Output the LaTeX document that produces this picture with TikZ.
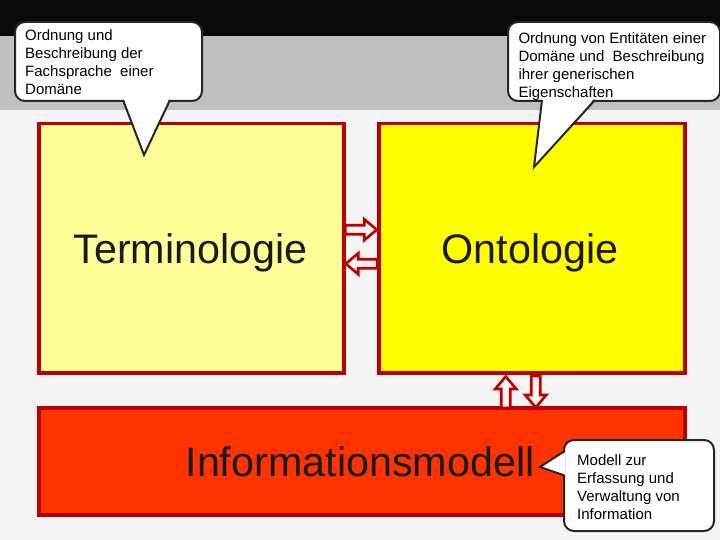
\documentclass[tikz,border=0pt]{standalone}
\usepackage{fontspec}
\setmainfont{Liberation Sans}
\usetikzlibrary{calc}
\definecolor{bandblack}{HTML}{0A0A0A}
\definecolor{bandgray}{HTML}{C0C0C0}
\definecolor{bgl}{HTML}{F4F4F4}
\definecolor{boxred}{HTML}{BC0000}
\definecolor{termfill}{HTML}{FFFF99}
\definecolor{ontofill}{HTML}{FFFF00}
\definecolor{infofill}{HTML}{FF3300}
\definecolor{calline}{HTML}{262626}
\definecolor{bigtxt}{HTML}{1A1A1A}
\tikzset{
  mainbox/.style={draw=boxred, line width=3.5pt, inner sep=0pt, anchor=north west},
  bigtext/.style={font=\fontsize{41.3}{48}\selectfont, text=bigtxt, inner sep=0pt, anchor=base},
  calloutbox/.style={draw=calline, line width=2pt, fill=white, rounded corners=10pt, inner sep=0pt, anchor=north west},
  callouttext/.style={font=\fontsize{15}{18}\selectfont, align=left, inner sep=0pt, anchor=north west, text=black},
  pointerline/.style={draw=calline, line width=2pt, line join=miter},
  arrowblk/.style={draw=boxred, line width=2.6pt, fill=bgl, line join=miter},
  blockarrow/.pic={\path[arrowblk] (-16,-4.5) -- (3,-4.5) -- (3,-10.5) -- (15.5,0) -- (3,10.5) -- (3,4.5) -- (-16,4.5) -- cycle;}
}
\begin{document}
\begin{tikzpicture}[x=1pt,y=-1pt]
\useasboundingbox (0,0) rectangle (720,540);
\fill[bandblack] (0,0) rectangle (720,36);
\fill[bandgray] (0,36) rectangle (720,110);
\fill[bgl] (0,110) rectangle (720,540);

% main boxes
\node[mainbox, fill=termfill, minimum width=305, minimum height=249] (term) at (37,122) {};
\node[mainbox, fill=ontofill, minimum width=306, minimum height=249] (onto) at (377,122) {};
\node[mainbox, fill=infofill, minimum width=646, minimum height=107] (info) at (37,406) {};

\node[bigtext] (tterm) at (190.5,263) {Terminologie};
\node[bigtext] (tonto) at (530,263) {Ontologie};
\node[bigtext] (tinfo) at (360,476) {Informationsmodell};

% arrows between boxes
\coordinate (mid) at ($(term.east)!0.5!(onto.west)$);
\pic at ($(mid)+(0,-18.5)$) {blockarrow};
\pic[rotate=180] at ($(mid)+(0,15.5)$) {blockarrow};
\pic[rotate=90] at ($(onto.south)+(-26,17.5)$) {blockarrow};
\pic[rotate=-90] at ($(onto.south)+(4,17.5)$) {blockarrow};

% callout 1
\node[calloutbox, minimum width=187, minimum height=79] (c1) at (14,21) {};
\coordinate (p1) at (144,155);
\fill[white] (123.5,98) -- (p1) -- (169.5,98) -- cycle;
\path[pointerline] (123,100) -- (p1) -- (170,100);
\node[callouttext] (t1) at (25,29.8) {Ordnung und\\Beschreibung der\\Fachsprache~ einer\\Domäne};

% callout 2
\node[calloutbox, minimum width=212, minimum height=79] (c2) at (507,21) {};
\coordinate (p2) at (534,167);
\fill[white] (542.5,98) -- (p2) -- (594.5,98) -- cycle;
\path[pointerline] (542,100) -- (p2) -- (595,100);
\node[callouttext] (t2) at (518.3,32.4) {Ordnung von Entitäten einer\\Domäne und~ Beschreibung\\ihrer generischen\\Eigenschaften};

% callout 3
\node[calloutbox, minimum width=150, minimum height=91] (c3) at (563,439) {};
\coordinate (p3) at (540,467);
\fill[white] (565,452.5) -- (p3) -- (565,474.5) -- cycle;
\path[pointerline] (563,452) -- (p3) -- (563,475);
\node[callouttext] (t3) at (577,454) {Modell zur\\Erfassung und\\Verwaltung von\\Information};
\end{tikzpicture}
\end{document}
